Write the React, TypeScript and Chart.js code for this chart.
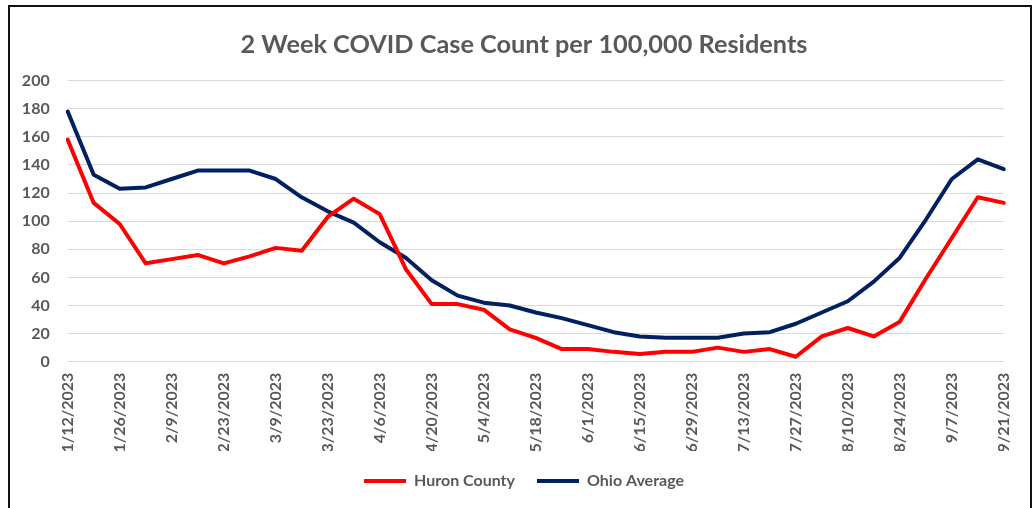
import React, { useEffect, useRef } from "react";
import { Chart, registerables } from "chart.js";

Chart.register(...registerables);

const dates = [
  "1/12/2023", "1/19/2023", "1/26/2023", "2/2/2023", "2/9/2023", "2/16/2023",
  "2/23/2023", "3/2/2023", "3/9/2023", "3/16/2023", "3/23/2023", "3/30/2023",
  "4/6/2023", "4/13/2023", "4/20/2023", "4/27/2023", "5/4/2023", "5/11/2023",
  "5/18/2023", "5/25/2023", "6/1/2023", "6/8/2023", "6/15/2023", "6/22/2023",
  "6/29/2023", "7/6/2023", "7/13/2023", "7/20/2023", "7/27/2023", "8/3/2023",
  "8/10/2023", "8/17/2023", "8/24/2023", "8/31/2023", "9/7/2023", "9/14/2023",
  "9/21/2023",
];

const huronCounty = [
  158, 113, 98, 70, 73, 76, 70, 75, 81, 79, 103, 116, 105, 66, 41, 41, 37, 23,
  17, 9, 9, 7, 5.5, 7, 7, 10, 7, 9, 3.5, 18, 24, 18, 28.5, 59, 88, 117, 113,
];

const ohioAverage = [
  178, 133, 123, 124, 130, 136, 136, 136, 130, 117, 107, 99, 85, 74, 58, 47, 42,
  40, 35, 31, 26, 21, 18, 17, 17, 17, 20, 21, 27, 35, 43, 57, 74, 101, 130, 144,
  137,
];

const seriesNames = ["Huron County", "Ohio Average"];
const yTicks = [0, 200, 20];
const titleText = "2 Week COVID Case Count per 100,000 Residents";

const TEXT = "#595959";
const FONT = "Lato";

export default function App() {
  const ref = useRef<HTMLCanvasElement | null>(null);

  useEffect(() => {
    if (!ref.current) return;
    const chart = new Chart(ref.current, {
      type: "line",
      data: {
        labels: dates,
        datasets: [
          {
            label: seriesNames[0],
            data: huronCounty,
            borderColor: "#FF0000",
            backgroundColor: "#FF0000",
            borderWidth: 4,
            pointRadius: 0,
            tension: 0,
            borderJoinStyle: "round",
            borderCapStyle: "round",
          },
          {
            label: seriesNames[1],
            data: ohioAverage,
            borderColor: "#002060",
            backgroundColor: "#002060",
            borderWidth: 4,
            pointRadius: 0,
            tension: 0,
            borderJoinStyle: "round",
            borderCapStyle: "round",
          },
        ],
      },
      options: {
        responsive: false,
        animation: false,
        devicePixelRatio: 1,
        layout: { padding: { left: 14, right: 0, top: 0, bottom: 9 } },
        plugins: {
          tooltip: { enabled: false },
          title: {
            display: true,
            text: titleText,
            color: TEXT,
            font: { family: FONT, size: 25.3, weight: "bold" },
            padding: { top: 29.5, bottom: 20.8 },
          },
          legend: {
            position: "bottom",
            labels: {
              color: TEXT,
              font: { family: FONT, size: 16, weight: "bold" },
              usePointStyle: true,
              pointStyle: "line",
              pointStyleWidth: 42,
              padding: 22,
            },
          },
        },
        scales: {
          x: {
            grid: { display: false, drawTicks: false },
            border: { display: false },
            ticks: {
              autoSkip: false,
              maxRotation: 90,
              minRotation: 90,
              padding: 11,
              color: TEXT,
              font: { family: FONT, size: 16, weight: "bold" },
              callback: (_v: any, i: number) => (i % 2 === 0 ? dates[i] : ""),
            },
            afterFit: (s: any) => {
              s.height = 89.3;
            },
          },
          y: {
            min: yTicks[0],
            max: yTicks[1],
            grid: { color: "#D9D9D9", lineWidth: 1, drawTicks: false },
            border: { display: false },
            ticks: {
              stepSize: yTicks[2],
              padding: 18,
              color: TEXT,
              font: { family: FONT, size: 16, weight: "bold" },
            },
            afterFit: (s: any) => {
              s.width = 53.7;
            },
          },
          yRight: {
            type: "linear",
            position: "right",
            display: true,
            grid: { display: false, drawTicks: false },
            border: { display: false },
            ticks: { display: false },
            afterFit: (s: any) => {
              s.width = 25.7;
            },
          },
        },
      },
    });
    return () => chart.destroy();
  }, []);

  return (
    <div
      style={{
        position: "fixed",
        left: 0,
        top: 0,
        width: 1034,
        height: 508,
        background: "#fff",
        overflow: "hidden",
      }}
    >
      <canvas
        ref={ref}
        width={1034}
        height={508}
        style={{ position: "absolute", left: 0, top: 0, width: 1034, height: 508 }}
      />
      <div
        style={{
          position: "absolute",
          left: 8,
          top: 5,
          width: 1024,
          height: 540,
          boxSizing: "border-box",
          border: "2px solid #111",
          pointerEvents: "none",
        }}
      />
    </div>
  );
}
